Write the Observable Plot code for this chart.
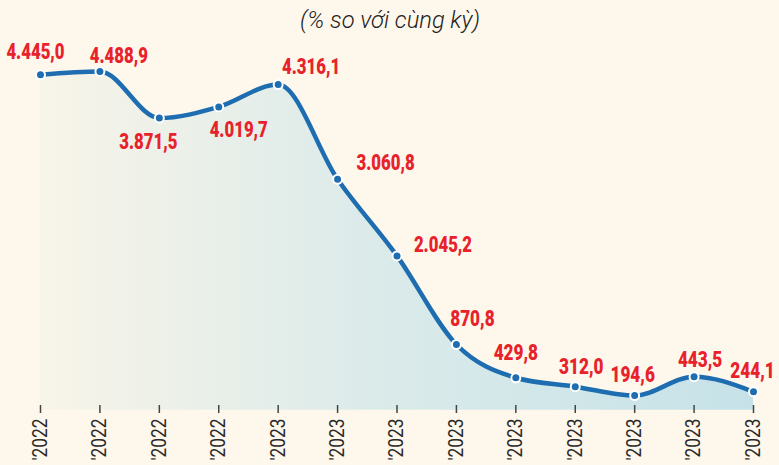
<!DOCTYPE html>
<html>
<head>
<meta charset="utf-8">
<script src="https://cdn.jsdelivr.net/npm/d3@7"></script>
<script src="https://cdn.jsdelivr.net/npm/@observablehq/plot@0.6"></script>
<style>
  html, body { margin: 0; padding: 0; background: #fef7ec; }
  #chart svg { display: block; }
</style>
</head>
<body>
<div id="chart"></div>
<script>
// Data
const title = "(% so với cùng kỳ)";
const periodLabels = ["'2022", "'2022", "'2022", "'2022", "'2023", "'2023", "'2023", "'2023", "'2023", "'2023", "'2023", "'2023", "'2023"];
const values = [4445.0, 4488.9, 3871.5, 4019.7, 4316.1, 3060.8, 2045.2, 870.8, 429.8, 312.0, 194.6, 443.5, 244.1];

// Label placement offsets (layout only)
const labelDx = [-5, 19, -11, 20, 33, 48, 46, 16, 0, 6, -2, 6, -1];
const labelDy = [-23, -16, 24, 23, -18, -16, -11, -26, -25, -20, -21, -17, -21];

const rows = values.map((v, i) => ({i, v, dx: labelDx[i], dy: labelDy[i]}));

const vn = d3.formatLocale({decimal: ",", thousands: ".", grouping: [3], currency: ["", ""]});
const fmt = vn.format(",.1f");

const lineColor = "#1e6db0";
const labelFont = "Roboto, 'Liberation Sans', sans-serif";

const plot = Plot.plot({
  width: 779,
  height: 465,
  marginTop: 40,
  marginBottom: 60,
  marginLeft: 0,
  marginRight: 0,
  style: {background: "#fef7ec", fontFamily: labelFont, overflow: "visible"},
  x: {domain: [0, 12], range: [40, 753], axis: null},
  y: {domain: [0, 4488.9], range: [409.7, 71], axis: null},
  marks: [
    Plot.areaY(rows, {x: "i", y: "v", curve: "monotone-x", fill: "url(#areaGrad)"}),
    Plot.axisX({
      ariaDescription: "period-axis",
      ticks: d3.range(0, 13),
      tickFormat: i => periodLabels[i],
      tickSize: 8,
      tickPadding: 5,
      tickRotate: -90,
      stroke: "#444",
      strokeWidth: 1.5,
      fill: "#2a2a2a",
      fontSize: 20,
      fontFamily: labelFont,
      label: null
    }),
    Plot.line(rows, {x: "i", y: "v", curve: "monotone-x", stroke: lineColor, strokeWidth: 4.5, strokeLinecap: "round"}),
    Plot.dot(rows, {x: "i", y: "v", r: 4.5, fill: lineColor, stroke: "#ffffff", strokeWidth: 2}),
    ...rows.map(d => Plot.text([d], {
      ariaDescription: "value-label",
      x: "i", y: "v", text: r => fmt(r.v),
      dx: d.dx, dy: d.dy,
      fill: "#e8222b", fontSize: 22, fontWeight: 900, fontFamily: labelFont
    })),
    Plot.text([title], {
      ariaDescription: "chart-title",
      frameAnchor: "top", dy: -30, text: d => d,
      fontSize: 24, fontStyle: "italic", fontWeight: 300, fill: "#222",
      fontFamily: labelFont
    })
  ]
});

// gradient definition for the area fill
const svg = d3.select(plot);
const defs = svg.insert("defs", ":first-child");
const grad = defs.append("linearGradient")
  .attr("id", "areaGrad").attr("x1", "0").attr("x2", "1").attr("y1", "0").attr("y2", "0");
grad.append("stop").attr("offset", "0%").attr("stop-color", "#f8f4e8");
grad.append("stop").attr("offset", "45%").attr("stop-color", "#dcebea");
grad.append("stop").attr("offset", "100%").attr("stop-color", "#c6e2e8");

document.getElementById("chart").appendChild(plot);

// condensed look: compress glyphs horizontally
function condense(name, lengthFn) {
  svg.selectAll(`[aria-description='${name}'] text`).each(function() {
    this.setAttribute("textLength", lengthFn(this.textContent));
    this.setAttribute("lengthAdjust", "spacingAndGlyphs");
  });
}
condense("value-label", s => {
  const digits = (s.match(/\d/g) || []).length;
  return digits * 10.2 + (s.length - digits) * 3.6;
});
condense("period-axis", s => 42);
condense("chart-title", s => 180);
svg.selectAll("[aria-label='x-axis tick label'] text").each(function() {
  this.setAttribute("textLength", 42);
  this.setAttribute("lengthAdjust", "spacingAndGlyphs");
});
</script>
</body>
</html>
